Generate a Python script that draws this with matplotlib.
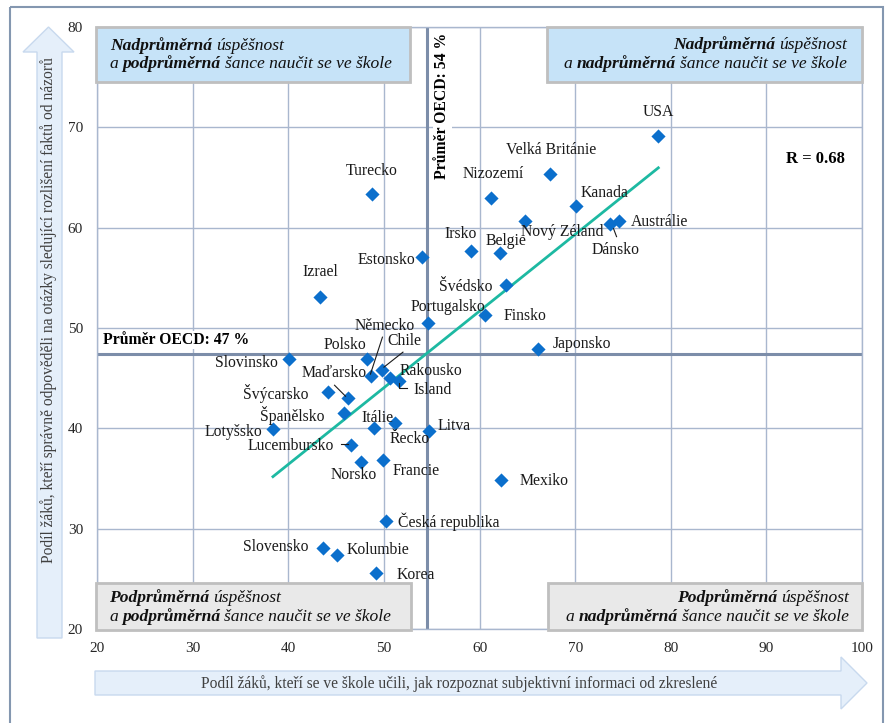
import numpy as np
import matplotlib
matplotlib.use("Agg")
import matplotlib.pyplot as plt
from matplotlib.patches import Rectangle, Polygon
from matplotlib.lines import Line2D
from matplotlib.transforms import IdentityTransform

# data
countries = ["USA", "Velká Británie", "Nizozemí", "Kanada", "Nový Zéland", "Austrálie",
             "Dánsko", "Irsko", "Belgie", "Estonsko", "Švédsko", "Finsko", "Portugalsko",
             "Japonsko", "Turecko", "Izrael", "Slovinsko", "Polsko", "Německo", "Chile",
             "Maďarsko", "Rakousko", "Island", "Švýcarsko", "Španělsko", "Lotyšsko",
             "Itálie", "Řecko", "Litva", "Lucembursko", "Norsko", "Francie", "Mexiko",
             "Česká republika", "Slovensko", "Kolumbie", "Korea"]
x_vals = [78.7, 67.4, 61.2, 70.1, 64.8, 74.6, 73.6, 59.1, 62.1, 54.0, 62.8, 60.6, 54.6,
          66.1, 48.8, 43.3, 40.1, 48.2, 48.7, 49.8, 46.2, 50.6, 51.6, 44.2, 45.8, 38.4,
          49.0, 51.2, 54.7, 46.6, 47.6, 49.9, 62.2, 50.2, 43.6, 45.1, 49.2]
y_vals = [69.1, 65.3, 63.0, 62.2, 60.7, 60.7, 60.4, 57.7, 57.5, 57.1, 54.3, 51.3, 50.5,
          47.9, 63.4, 53.1, 46.9, 46.9, 45.2, 45.8, 43.0, 45.0, 44.7, 43.6, 41.5, 39.9,
          40.0, 40.5, 39.7, 38.3, 36.6, 36.8, 34.9, 30.8, 28.1, 27.4, 25.6]
oecd_x = 54.5
oecd_y = 47.4
r_value = 0.68

# label placement: offset in pixels from the marker, horizontal alignment
label_pos = {
    "USA": (0, 24, "center"), "Velká Británie": (1, 24, "center"),
    "Nizozemí": (2, 24, "center"), "Kanada": (4, 13, "left"),
    "Nový Zéland": (-4, -11, "left"), "Austrálie": (12, -1, "left"),
    "Dánsko": (6, -26, "center"), "Irsko": (-10, 17, "center"),
    "Belgie": (6, 12, "center"), "Estonsko": (-7, -3, "right"),
    "Švédsko": (-14, -2, "right"), "Finsko": (18, -1, "left"),
    "Portugalsko": (20, 16, "center"), "Japonsko": (15, 5, "left"),
    "Turecko": (-1, 23, "center"), "Izrael": (1, 25, "center"),
    "Slovinsko": (-11, -4, "right"), "Polsko": (-22, 14, "center"),
    "Německo": (13, 50, "center"), "Chile": (22, 29, "center"),
    "Maďarsko": (-13, 25, "center"), "Rakousko": (10, 7, "left"),
    "Island": (14, -9, "left"), "Švýcarsko": (-20, -1, "right"),
    "Španělsko": (-19, -2, "right"), "Lotyšsko": (-11, -3, "right"),
    "Itálie": (3, 10, "center"), "Řecko": (14, -16, "center"),
    "Litva": (9, 5, "left"), "Lucembursko": (-17, -1, "right"),
    "Norsko": (-7, -13, "center"), "Francie": (10, -11, "left"),
    "Mexiko": (19, -1, "left"), "Česká republika": (12, -1, "left"),
    "Slovensko": (-14, 1, "right"), "Kolumbie": (10, 5, "left"),
    "Korea": (20, -2, "left"),
}
# leader lines, pixel offsets from the marker
leaders = {
    "Německo": [(11, 39), (-1, 2)],
    "Chile": [(21, 18), (2, 3)],
    "Maďarsko": [(-13, 13), (-2, 2)],
    "Island": [(0, -2), (0, -7), (8, -7)],
    "Dánsko": [(4, -5), (7, -13)],
    "Lucembursko": [(-10, 1), (-3, 1)],
}

plt.rcParams['font.family'] = ['Liberation Serif', 'DejaVu Serif']

W, H = 888, 723
fig = plt.figure(figsize=(W / 100, H / 100), dpi=100)

# background decorations in pixel coordinates
bg = fig.add_axes([0, 0, 1, 1])
bg.set_xlim(0, W)
bg.set_ylim(H, 0)
bg.axis('off')
bg.add_patch(Rectangle((10, 7), 873, 730, fill=False, ec='#8497B0', lw=1.5))
arrow_fc = '#E5EFFA'
arrow_ec = '#C8D9EE'
bg.add_patch(Polygon([(37, 638), (37, 52), (23, 52), (48.5, 27), (74, 52), (62, 52), (62, 638)],
                     closed=True, fc=arrow_fc, ec=arrow_ec, lw=1))
bg.add_patch(Polygon([(95, 671), (841, 671), (841, 657), (867, 683), (841, 709), (841, 695), (95, 695)],
                     closed=True, fc=arrow_fc, ec=arrow_ec, lw=1))
bg.text(49, 310, "Podíl žáků, kteří správně odpověděli na otázky sledující rozlišení faktů od názorů",
        rotation=90, ha='center', va='center', fontsize=11.2, color='#404040')
bg.text(459, 684, "Podíl žáků, kteří se ve škole učili, jak rozpoznat subjektivní informaci od zkreslené",
        ha='center', va='center', fontsize=11.2, color='#404040')

ax = fig.add_axes([97 / W, 1 - 629 / H, (862 - 97) / W, (629 - 27) / H])
ax.set_facecolor('none')
ax.set_xlim(20, 100)
ax.set_ylim(20, 80)
ax.set_xticks(np.arange(20, 101, 10))
ax.set_yticks(np.arange(20, 81, 10))
grid_c = '#A9B7CE'
ax.grid(True, color=grid_c, lw=1, zorder=0)
for s in ax.spines.values():
    s.set_color(grid_c)
    s.set_linewidth(1)
ax.tick_params(length=0, labelsize=11, colors='#262626')
ax.tick_params(axis='x', pad=9)
ax.tick_params(axis='y', pad=10)
ax.set_axisbelow(True)

# OECD averages
ax.axvline(oecd_x, color='#7C8DA9', lw=2.2, zorder=1)
ax.axhline(oecd_y, color='#7C8DA9', lw=2.2, zorder=1)
ax.text(oecd_x + 1.6, 79.4, "Průměr OECD: 54 %", rotation=90, ha='center', va='top',
        fontsize=11.3, fontweight='bold', zorder=3,
        bbox=dict(fc='white', ec='none', pad=1))
ax.text(20.6, oecd_y + 1.4, "Průměr OECD: 47 %", ha='left', va='center',
        fontsize=11.3, fontweight='bold', zorder=3,
        bbox=dict(fc='white', ec='none', pad=1))
ax.text(95.1, 66.8, "R = %.2f" % r_value, ha='center', va='center',
        fontsize=12, fontweight='bold')

# quadrant boxes
box_top = dict(fc='#C6E3F8', ec='#BFBFBF', lw=2)
box_bot = dict(fc='#E9E9E9', ec='#BFBFBF', lw=2)
ax.add_patch(Rectangle((19.9, 74.5), 32.8, 5.5, zorder=4, clip_on=False, **box_top))
ax.add_patch(Rectangle((67.1, 74.5), 32.9, 5.5, zorder=4, clip_on=False, **box_top))
ax.add_patch(Rectangle((19.9, 19.9), 32.9, 4.7, zorder=4, clip_on=False, **box_bot))
ax.add_patch(Rectangle((67.2, 19.9), 32.8, 4.7, zorder=4, clip_on=False, **box_bot))


def rich_line(x, y, parts, ha='left', size=12.6, gap=4):
    kw = dict(fontsize=size, style='italic', zorder=5, color='#111111')
    if ha == 'left':
        seq = parts
    else:
        seq = parts[::-1]
    s, b = seq[0]
    t = ax.text(x, y, s, ha=ha, va='center', fontweight='bold' if b else 'normal', **kw)
    for s, b in seq[1:]:
        if ha == 'left':
            t = ax.annotate(s, xy=(1, 0), xycoords=t, xytext=(gap, 0), textcoords='offset pixels',
                            ha='left', va='bottom', fontweight='bold' if b else 'normal', **kw)
        else:
            t = ax.annotate(s, xy=(0, 0), xycoords=t, xytext=(-gap, 0), textcoords='offset pixels',
                            ha='right', va='bottom', fontweight='bold' if b else 'normal', **kw)


tail = "šance naučit se ve škole"
rich_line(21.35, 78.2, [("Nadprůměrná", True), ("úspěšnost", False)])
rich_line(21.35, 76.3, [("a", False), ("podprůměrná", True), (tail, False)])
rich_line(98.4, 78.2, [("Nadprůměrná", True), ("úspěšnost", False)], ha='right')
rich_line(98.4, 76.3, [("a", False), ("nadprůměrná", True), (tail, False)], ha='right')
rich_line(21.3, 23.1, [("Podprůměrná", True), ("úspěšnost", False)])
rich_line(21.3, 21.2, [("a", False), ("podprůměrná", True), (tail, False)])
rich_line(98.6, 23.1, [("Podprůměrná", True), ("úspěšnost", False)], ha='right')
rich_line(98.6, 21.2, [("a", False), ("nadprůměrná", True), (tail, False)], ha='right')

# trend line
coefs = np.polyfit(x_vals, y_vals, 1)
xs = np.array([min(x_vals), max(x_vals)])
ax.plot(xs, np.polyval(coefs, xs), color='#1DB9A2', lw=2, zorder=2)

# points
ax.scatter(x_vals, y_vals, marker='D', s=52, color='#0B6FCC', zorder=3, linewidths=0)

for c, x, y in zip(countries, x_vals, y_vals):
    dx, dy, ha = label_pos[c]
    ax.annotate(c, xy=(x, y), xytext=(dx, dy), textcoords='offset pixels',
                ha=ha, va='center', fontsize=11.3, color='#1A1A1A', zorder=6)

# leader lines
for c, pts in leaders.items():
    i = countries.index(c)
    px, py = ax.transData.transform((x_vals[i], y_vals[i]))
    fig.add_artist(Line2D([px + p[0] for p in pts], [py + p[1] for p in pts],
                          transform=IdentityTransform(), color='#1A1A1A', lw=0.8, zorder=6))

fig.savefig("out.png", dpi=100)
